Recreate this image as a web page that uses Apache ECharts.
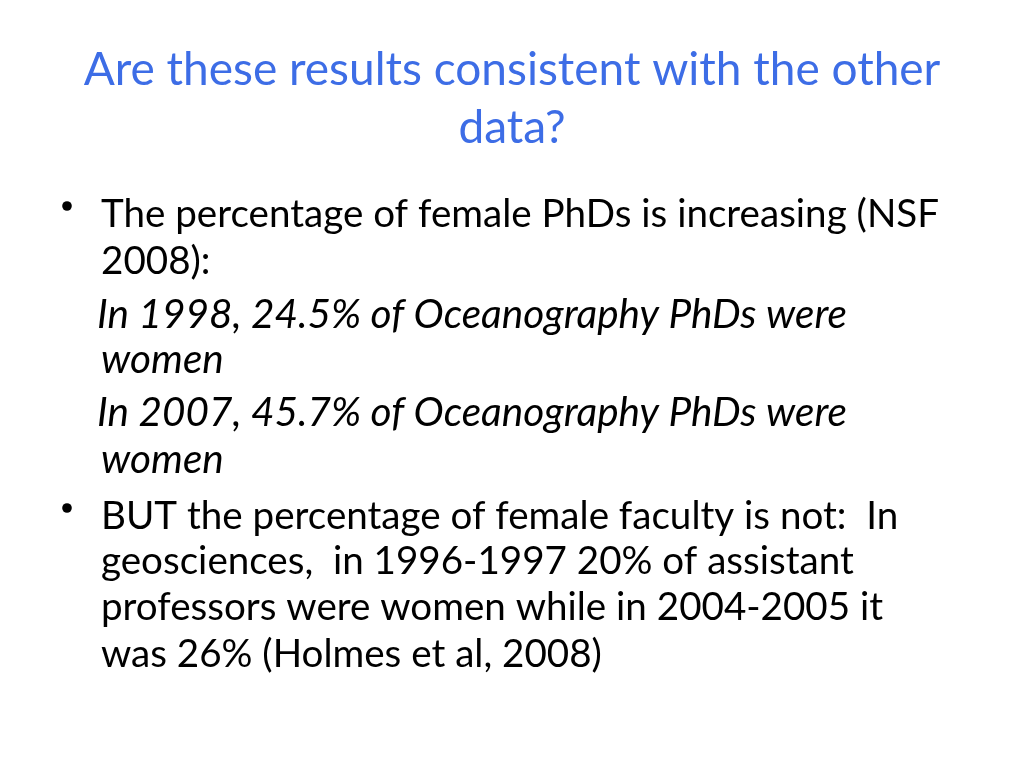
<!DOCTYPE html>
<html><head><meta charset="utf-8">
<script src="https://cdn.jsdelivr.net/npm/echarts@6/dist/echarts.min.js"></script>
<style>html,body{margin:0;padding:0;background:#fff}#c{width:1024px;height:768px}</style>
</head><body><div id="c"></div>
<script>
const titleLines = ["Are these results consistent with the other", "data?"];
const phdYears = [1998, 2007];
const phdPercent = [24.5, 45.7];
const facultyPeriods = ["1996-1997", "2004-2005"];
const facultyPercent = [20, 26];

const FONT = 'Lato, "Open Sans", sans-serif';
const bodyLines = [
  {t: "The percentage of female PhDs is increasing (NSF", x: 101, y: 215, it: false},
  {t: "2008):", x: 101, y: 262, it: false},
  {t: "In " + phdYears[0] + ", " + phdPercent[0] + "% of Oceanography PhDs were", x: 97, y: 315, it: true},
  {t: "women", x: 101, y: 360, it: true},
  {t: "In " + phdYears[1] + ", " + phdPercent[1] + "% of Oceanography PhDs were", x: 97, y: 413, it: true},
  {t: "women", x: 101, y: 460, it: true},
  {t: "BUT the percentage of female faculty is not:  In", x: 101, y: 517, it: false},
  {t: "geosciences,  in " + facultyPeriods[0] + " " + facultyPercent[0] + "% of assistant", x: 101, y: 562, it: false},
  {t: "professors were women while in " + facultyPeriods[1] + " it", x: 101, y: 608, it: false},
  {t: "was " + facultyPercent[1] + "% (Holmes et al, 2008)", x: 101, y: 655, it: false}
];
const bullets = [{x: 67, y: 206}, {x: 67, y: 508}];

const graphic = [];
titleLines.forEach((t, i) => graphic.push({
  type: 'text', x: 512, y: 70 + i * 58,
  style: {text: t, fill: '#3d6de6', font: '46px ' + FONT, textAlign: 'center', textVerticalAlign: 'middle'}
}));
bodyLines.forEach(l => graphic.push({
  type: 'text', x: l.x, y: l.y,
  style: {text: l.t, fill: '#000', font: (l.it ? 'italic 40.5px ' : '38.6px ') + FONT, textVerticalAlign: 'middle', textAlign: 'left'}
}));
bullets.forEach(b => graphic.push({
  type: 'circle', shape: {cx: b.x, cy: b.y, r: 4.8}, style: {fill: '#000'}
}));

const chart = echarts.init(document.getElementById('c'));
chart.setOption({backgroundColor: '#fff', animation: false, graphic: graphic});
</script></body></html>
